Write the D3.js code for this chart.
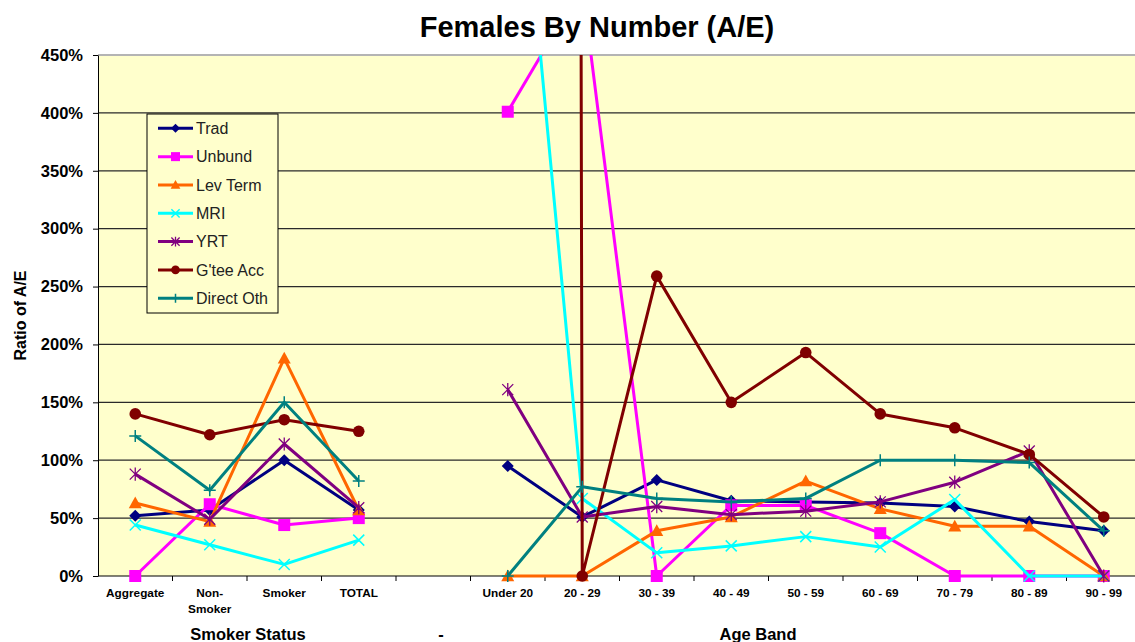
<!DOCTYPE html>
<html>
<head>
<meta charset="utf-8">
<script src="https://cdn.jsdelivr.net/npm/d3@7"></script>
<style>
  html, body { margin: 0; padding: 0; background: #ffffff; }
  svg { display: block; font-family: Arial, "Liberation Sans", sans-serif; }
</style>
</head>
<body>
<svg id="chart" width="1135" height="642"></svg>
<script>
// Category axis: smoker-status group, an empty spacer slot, then age bands
const categories = ["Aggregate", "Non-Smoker", "Smoker", "TOTAL", "",
  "Under 20", "20 - 29", "30 - 39", "40 - 49", "50 - 59", "60 - 69", "70 - 79", "80 - 89", "90 - 99"];

// A/E ratios (1 = 100%); null marks the spacer slot
const trad      = [0.52, 0.57, 1.00, 0.57, null, 0.95, 0.51, 0.83, 0.65, 0.64, 0.63, 0.60, 0.47, 0.39];
const unbund    = [0.00, 0.62, 0.44, 0.50, null, 4.01, 5.10, 0.00, 0.61, 0.61, 0.37, 0.00, 0.00, 0.00];
const levTerm   = [0.63, 0.47, 1.88, 0.57, null, 0.00, 0.00, 0.39, 0.51, 0.82, 0.58, 0.43, 0.43, 0.00];
const mri       = [0.44, 0.27, 0.10, 0.31, null, 7.50, 0.67, 0.20, 0.26, 0.34, 0.25, 0.66, 0.00, 0.00];
const yrt       = [0.88, 0.49, 1.14, 0.59, null, 1.61, 0.51, 0.60, 0.53, 0.56, 0.64, 0.81, 1.08, 0.00];
const gteeAcc   = [1.40, 1.22, 1.35, 1.25, null, 300.0, 0.00, 2.59, 1.50, 1.93, 1.40, 1.28, 1.05, 0.51];
const directOth = [1.21, 0.74, 1.50, 0.82, null, 0.00, 0.77, 0.67, 0.64, 0.67, 1.00, 1.00, 0.98, 0.39];

const seriesNames  = ["Trad", "Unbund", "Lev Term", "MRI", "YRT", "G'tee Acc", "Direct Oth"];
const seriesValues = [trad, unbund, levTerm, mri, yrt, gteeAcc, directOth];
const seriesColors = ["#000080", "#FF00FF", "#FF6600", "#00FFFF", "#800080", "#800000", "#008080"];
const seriesMarkers = ["diamond", "square", "triangle", "cross", "asterisk", "circle", "plus"];

const yTickValues = [0, 0.5, 1.0, 1.5, 2.0, 2.5, 3.0, 3.5, 4.0, 4.5];
const chartTitle = "Females By Number (A/E)";
const yTitle = "Ratio of A/E";
const xTitleParts = ["Smoker Status", "-", "Age Band"];

const svg = d3.select("#chart");
const plot = { left: 98, right: 1141, top: 55, bottom: 576 };

const x = d3.scaleBand().domain(categories).range([plot.left, plot.right]).padding(0);
const cx = c => x(c) + x.bandwidth() / 2;
const y = d3.scaleLinear().domain([0, 4.5]).range([plot.bottom, plot.top]);
const pct = d3.format(".0%");

// Title
svg.append("text")
  .attr("x", 597).attr("y", 37)
  .attr("text-anchor", "middle")
  .attr("font-size", 29).attr("font-weight", "bold")
  .text(chartTitle);

// Plot background
svg.append("rect")
  .attr("x", plot.left).attr("y", plot.top)
  .attr("width", plot.right - plot.left).attr("height", plot.bottom - plot.top)
  .attr("fill", "#FFFFCC");

// Horizontal gridlines
svg.append("g").selectAll("line")
  .data(yTickValues.filter(v => v > 0 && v < 4.5))
  .join("line")
  .attr("x1", plot.left).attr("x2", plot.right)
  .attr("y1", d => y(d)).attr("y2", d => y(d))
  .attr("stroke", "#2a2a2a").attr("stroke-width", 1.2);

// Top border of plot area
svg.append("line")
  .attr("x1", plot.left).attr("x2", plot.right)
  .attr("y1", plot.top).attr("y2", plot.top)
  .attr("stroke", "#b4b4b4").attr("stroke-width", 2);

// Value axis
const yAxis = svg.append("g")
  .attr("transform", `translate(${plot.left},0)`)
  .call(d3.axisLeft(y).tickValues(yTickValues).tickFormat(pct).tickSize(5).tickSizeOuter(0).tickPadding(10));
yAxis.select(".domain").attr("stroke", "#000");
yAxis.selectAll(".tick line").attr("stroke", "#000");
yAxis.selectAll(".tick text")
  .attr("font-size", 16.5).attr("font-weight", "bold").attr("fill", "#000")
  .attr("font-family", "Arial, 'Liberation Sans', sans-serif");

svg.append("text")
  .attr("transform", `translate(26,${(plot.top + plot.bottom) / 2}) rotate(-90)`)
  .attr("text-anchor", "middle")
  .attr("font-size", 16).attr("font-weight", "bold")
  .text(yTitle);

// Category axis: labels centred in each band, tick marks on band boundaries
const xAxis = svg.append("g")
  .attr("transform", `translate(0,${plot.bottom})`)
  .call(d3.axisBottom(x).tickSize(0).tickPadding(0));
xAxis.select(".domain").remove();
xAxis.selectAll(".tick text").each(function (d) {
  const t = d3.select(this);
  t.text(null).attr("y", 21).attr("dy", null)
    .attr("font-size", 11.8).attr("font-weight", "bold").attr("fill", "#000")
    .attr("font-family", "Arial, 'Liberation Sans', sans-serif");
  const parts = d.includes("-") && !d.includes(" ") ? [d.slice(0, d.indexOf("-") + 1), d.slice(d.indexOf("-") + 1)] : [d];
  parts.forEach((p, i) => t.append("tspan").attr("x", 0).attr("dy", i === 0 ? 0 : 15.5).text(p));
});
svg.append("line")
  .attr("x1", plot.left).attr("x2", plot.right)
  .attr("y1", plot.bottom).attr("y2", plot.bottom)
  .attr("stroke", "#000").attr("stroke-width", 1.2);
svg.append("g").selectAll("line")
  .data(categories.slice(1))
  .join("line")
  .attr("x1", d => x(d)).attr("x2", d => x(d))
  .attr("y1", plot.bottom).attr("y2", plot.bottom + 5)
  .attr("stroke", "#000");

// Category axis title
const xTitleX = [248, 441, 758];
svg.append("g").selectAll("text")
  .data(xTitleParts)
  .join("text")
  .attr("x", (d, i) => xTitleX[i]).attr("y", 640)
  .attr("text-anchor", "middle")
  .attr("font-size", 16.5).attr("font-weight", "bold")
  .text(d => d);

// Marker shapes
function drawMarker(g, type, color, s) {
  switch (type) {
    case "diamond":
      g.append("path").attr("d", `M0,${-s}L${s},0L0,${s}L${-s},0Z`).attr("fill", color);
      break;
    case "square":
      g.append("rect").attr("x", -s).attr("y", -s).attr("width", 2 * s).attr("height", 2 * s).attr("fill", color);
      break;
    case "triangle":
      g.append("path").attr("d", `M0,${-s}L${s},${s * 0.8}L${-s},${s * 0.8}Z`).attr("fill", color);
      break;
    case "cross":
      g.append("path").attr("d", `M${-s},${-s}L${s},${s}M${-s},${s}L${s},${-s}`)
        .attr("stroke", color).attr("stroke-width", 1.5).attr("fill", "none");
      break;
    case "asterisk":
      g.append("path").attr("d", `M${-s},${-s}L${s},${s}M${-s},${s}L${s},${-s}M0,${-s * 1.2}L0,${s * 1.2}`)
        .attr("stroke", color).attr("stroke-width", 1.3).attr("fill", "none");
      break;
    case "circle":
      g.append("circle").attr("r", s).attr("fill", color);
      break;
    case "plus":
      g.append("path").attr("d", `M${-s},0L${s},0M0,${-s}L0,${s}`)
        .attr("stroke", color).attr("stroke-width", 1.5).attr("fill", "none");
      break;
  }
}
const markerSize = { diamond: 6, square: 6, triangle: 6.5, cross: 5.5, asterisk: 5.5, circle: 5.8, plus: 6 };

// Clip lines to the plot area
svg.append("defs").append("clipPath").attr("id", "plotClip")
  .append("rect")
  .attr("x", plot.left).attr("y", plot.top)
  .attr("width", plot.right - plot.left).attr("height", plot.bottom - plot.top + 6);

const line = d3.line()
  .defined(d => d.v != null)
  .x(d => cx(d.c))
  .y(d => y(d.v));

const seriesG = svg.append("g");
seriesValues.forEach((vals, si) => {
  const pts = categories.map((c, i) => ({ c, v: vals[i] }));
  const g = seriesG.append("g");
  g.append("path")
    .datum(pts)
    .attr("clip-path", "url(#plotClip)")
    .attr("d", line)
    .attr("fill", "none")
    .attr("stroke", seriesColors[si])
    .attr("stroke-width", 3)
    .attr("stroke-linejoin", "round");
  pts.filter(p => p.v != null && p.v <= 4.5).forEach(p => {
    const m = g.append("g").attr("transform", `translate(${cx(p.c)},${y(p.v)})`);
    drawMarker(m, seriesMarkers[si], seriesColors[si], markerSize[seriesMarkers[si]]);
  });
});

// Legend
const legend = svg.append("g").attr("transform", "translate(147,114)");
legend.append("rect")
  .attr("x", 0).attr("y", 0).attr("width", 131).attr("height", 199)
  .attr("fill", "#FFFFCC").attr("stroke", "#000").attr("stroke-width", 1);
seriesNames.forEach((name, i) => {
  const row = legend.append("g").attr("transform", `translate(0,${14.3 + i * 28.33})`);
  row.append("line").attr("x1", 11).attr("x2", 46).attr("y1", 0).attr("y2", 0)
    .attr("stroke", seriesColors[i]).attr("stroke-width", 3);
  const m = row.append("g").attr("transform", "translate(28.5,0)");
  drawMarker(m, seriesMarkers[i], seriesColors[i], markerSize[seriesMarkers[i]] * 0.75);
  row.append("text").attr("x", 49).attr("y", 0).attr("dy", "0.36em")
    .attr("font-size", 16).attr("fill", "#222").text(name);
});
</script>
</body>
</html>
